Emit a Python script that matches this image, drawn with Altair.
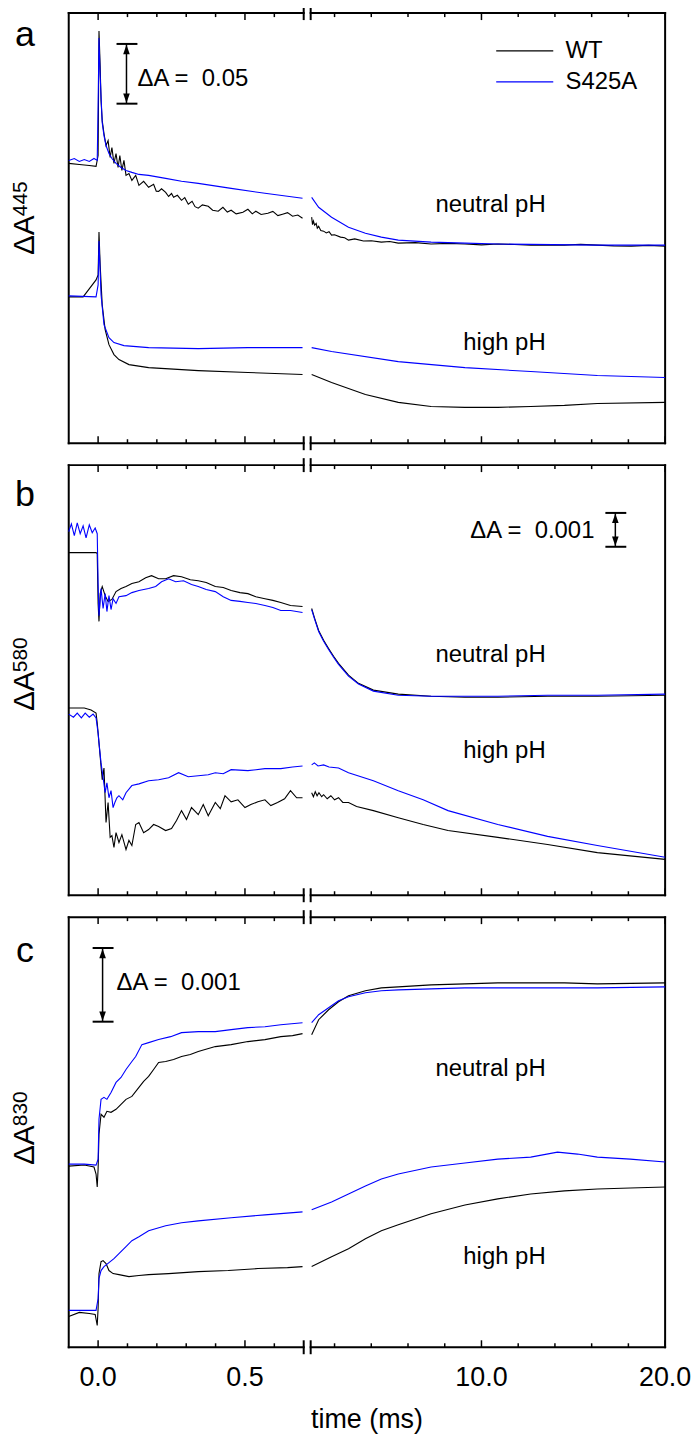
import altair as alt
import pandas as pd

FONT = "Liberation Sans"
W, H = 599, 432
BREAK_L, BREAK_R = 236, 243
X_DOMAIN = [-0.1, 0.7, 0.7, 20.0]
X_RANGE = [0, BREAK_L, BREAK_R, W]

TICK_MAJOR = [0.0, 0.5, 10.0, 20.0]
TICK_MINOR = [0.1, 0.2, 0.3, 0.4, 0.6, 2, 4, 6, 8, 12, 14, 16, 18]
TICK_LABELS = [0.0, 0.5, 10.0, 20.0]

SERIES = ["WT", "S425A"]
COLORS = ["#000000", "#0000ff"]

# ---------------- panel a (values in mΔA, time in ms) ----------------
a_neutral_wt = [(-0.100, 234.2), (-0.064, 233.3), (-0.030, 232.5), (-0.007, 231.7), (0.000, 240.8), (0.003, 345.0),
                (0.007, 315.8), (0.010, 286.7), (0.014, 270.0), (0.020, 259.2), (0.027, 249.2), (0.034, 253.3),
                (0.041, 239.2), (0.047, 247.5), (0.054, 234.2), (0.061, 242.5), (0.068, 230.8), (0.074, 240.8),
                (0.081, 228.3), (0.088, 236.7), (0.095, 224.2), (0.105, 225.8), (0.115, 220.0), (0.128, 224.2),
                (0.139, 215.8), (0.155, 219.2), (0.172, 214.2), (0.189, 216.7), (0.198, 211.0), (0.206, 210.8),
                (0.216, 213.0), (0.230, 210.0), (0.240, 206.5), (0.250, 209.0), (0.257, 205.8), (0.270, 207.5),
                (0.284, 203.3), (0.295, 205.5), (0.307, 200.0), (0.320, 202.5), (0.330, 198.0), (0.341, 196.7),
                (0.355, 199.5), (0.375, 198.3), (0.390, 195.0), (0.409, 194.2), (0.425, 197.5), (0.440, 193.5),
                (0.453, 195.0), (0.470, 192.0), (0.493, 193.3), (0.510, 195.8), (0.525, 192.0), (0.537, 194.2),
                (0.555, 191.5), (0.578, 192.5), (0.595, 194.0), (0.612, 190.5), (0.628, 191.7), (0.645, 193.0),
                (0.662, 190.0), (0.680, 191.0), (0.696, 188.3),
                (0.754, 189.2), (0.800, 183.0), (0.850, 186.0), (0.917, 182.5), (1.000, 184.0), (1.060, 180.0),
                (1.134, 181.5), (1.250, 178.0), (1.405, 177.5), (1.550, 176.0), (1.700, 177.0), (1.838, 174.2),
                (2.000, 174.5), (2.326, 172.5), (2.550, 172.0), (2.760, 170.0), (3.100, 171.0), (3.573, 169.2),
                (4.000, 169.5), (4.548, 168.3), (5.000, 168.8), (5.470, 167.5), (6.400, 167.9), (7.258, 166.7),
                (8.200, 167.3), (9.101, 166.7), (10.00, 166.0), (10.89, 166.7), (11.80, 166.3), (12.68, 165.8),
                (14.52, 165.8), (15.40, 166.4), (16.31, 165.8), (17.20, 165.2), (18.15, 165.0), (19.10, 165.6),
                (20.0, 165.0)]
a_neutral_mut = [(-0.100, 236.7), (-0.081, 238.3), (-0.064, 235.8), (-0.047, 237.5), (-0.030, 235.8), (-0.014, 238.3),
                 (-0.003, 236.7), (0.000, 282.5), (0.003, 339.2), (0.007, 307.5), (0.014, 268.3), (0.020, 257.5),
                 (0.027, 249.2), (0.037, 242.5), (0.047, 238.3), (0.061, 234.2), (0.078, 230.8), (0.095, 228.3),
                 (0.115, 226.7), (0.139, 225.0), (0.172, 224.2), (0.230, 221.7), (0.284, 219.2), (0.341, 217.5),
                 (0.453, 213.3), (0.568, 209.2), (0.696, 205.0),
                 (0.754, 205.8), (1.134, 197.5), (1.838, 189.2), (2.760, 180.8), (3.681, 175.8), (4.548, 172.5),
                 (5.470, 170.0), (7.258, 168.3), (9.101, 167.5), (10.89, 166.7), (16.31, 165.8), (20.0, 165.8)]
a_high_wt = [(-0.100, 122.5), (-0.051, 122.5), (-0.007, 136.7), (0.000, 140.8), (0.003, 176.7), (0.007, 149.2),
             (0.014, 115.8), (0.024, 95.0), (0.037, 82.5), (0.054, 74.2), (0.071, 70.0), (0.105, 65.8),
             (0.172, 63.3), (0.341, 60.8), (0.510, 59.2), (0.696, 57.5),
             (0.754, 57.5), (1.838, 50.8), (3.681, 40.8), (5.470, 34.2), (7.258, 30.8), (9.101, 30.0),
             (10.89, 30.0), (12.68, 30.8), (14.52, 31.7), (16.31, 33.3), (20.0, 34.2)]
a_high_mut = [(-0.100, 123.3), (-0.007, 122.5), (0.000, 132.5), (0.003, 169.2), (0.010, 124.2), (0.020, 99.2),
              (0.037, 88.3), (0.054, 84.2), (0.088, 81.7), (0.172, 80.0), (0.341, 79.2), (0.510, 80.0),
              (0.696, 80.0),
              (0.754, 80.0), (1.838, 76.7), (5.470, 68.3), (9.101, 63.3), (12.68, 60.0), (16.31, 56.7),
              (20.0, 55.0)]

# ---------------- panel b ----------------
b_neutral_wt = [(-0.100, 10.12), (-0.007, 10.12), (-0.003, 10.09), (0.000, 8.62), (0.003, 8.09), (0.007, 8.91),
                (0.014, 9.12), (0.024, 8.85), (0.034, 8.68), (0.047, 8.74), (0.061, 8.97), (0.078, 9.06),
                (0.095, 9.12), (0.115, 9.21), (0.139, 9.26), (0.162, 9.38), (0.182, 9.44), (0.206, 9.35),
                (0.230, 9.35), (0.257, 9.44), (0.284, 9.41), (0.314, 9.32), (0.341, 9.29), (0.368, 9.24),
                (0.399, 9.12), (0.426, 9.09), (0.453, 9.00), (0.483, 8.94), (0.510, 8.91), (0.537, 8.82),
                (0.568, 8.76), (0.595, 8.71), (0.622, 8.65), (0.655, 8.56), (0.696, 8.53),
                (0.754, 8.47), (0.917, 8.18), (1.134, 7.82), (1.405, 7.53), (1.676, 7.29), (1.947, 7.06),
                (2.218, 6.85), (2.760, 6.50), (3.302, 6.26), (4.115, 6.06), (5.470, 5.94), (7.258, 5.88),
                (9.101, 5.85), (10.89, 5.85), (13.60, 5.88), (16.31, 5.88), (20.0, 5.91)]
b_neutral_mut = [(-0.100, 10.74), (-0.091, 10.97), (-0.081, 10.62), (-0.071, 11.00), (-0.061, 10.68), (-0.051, 10.91),
                 (-0.041, 10.56), (-0.030, 10.94), (-0.020, 10.71), (-0.010, 10.85), (-0.003, 10.68), (0.000, 9.21),
                 (0.003, 8.26), (0.010, 9.06), (0.017, 8.47), (0.024, 8.91), (0.030, 8.38), (0.037, 8.85),
                 (0.044, 8.44), (0.051, 8.76), (0.061, 8.62), (0.071, 8.82), (0.095, 8.85), (0.115, 8.94),
                 (0.139, 9.00), (0.172, 9.06), (0.196, 9.12), (0.216, 9.26), (0.240, 9.35), (0.264, 9.26),
                 (0.291, 9.29), (0.318, 9.18), (0.341, 9.12), (0.368, 9.03), (0.399, 8.97), (0.426, 8.82),
                 (0.453, 8.71), (0.483, 8.68), (0.510, 8.65), (0.537, 8.62), (0.568, 8.56), (0.595, 8.50),
                 (0.622, 8.41), (0.655, 8.41), (0.696, 8.35),
                 (0.754, 8.44), (0.917, 8.15), (1.134, 7.79), (1.405, 7.50), (1.676, 7.26), (1.947, 7.03),
                 (2.218, 6.82), (2.760, 6.47), (3.302, 6.24), (4.115, 6.03), (5.470, 5.91), (7.258, 5.88),
                 (9.101, 5.88), (10.89, 5.88), (13.60, 5.91), (16.31, 5.91), (20.0, 5.94)]
b_high_wt = [(-0.100, 5.53), (-0.047, 5.53), (-0.024, 5.47), (-0.007, 5.38), (-0.003, 5.09), (0.003, 4.50),
             (0.014, 3.41), (0.020, 3.76), (0.027, 2.15), (0.034, 2.74), (0.041, 1.71), (0.047, 1.76),
             (0.054, 1.41), (0.061, 1.85), (0.071, 1.56), (0.081, 1.79), (0.095, 1.35), (0.105, 1.62),
             (0.115, 1.47), (0.128, 2.09), (0.139, 2.15), (0.155, 1.85), (0.172, 1.94), (0.189, 2.09),
             (0.206, 2.03), (0.230, 1.91), (0.250, 1.97), (0.267, 2.21), (0.284, 2.50), (0.301, 2.24),
             (0.318, 2.59), (0.341, 2.38), (0.358, 2.68), (0.375, 2.35), (0.399, 2.74), (0.416, 2.56),
             (0.432, 2.94), (0.453, 2.76), (0.476, 2.82), (0.500, 2.59), (0.520, 2.68), (0.544, 2.76),
             (0.568, 2.82), (0.588, 2.65), (0.611, 2.74), (0.635, 2.85), (0.655, 3.09), (0.676, 2.88),
             (0.696, 2.88),
             (0.754, 3.03), (0.850, 2.91), (0.950, 3.06), (1.050, 2.94), (1.150, 3.03), (1.300, 2.91),
             (1.405, 2.97), (1.600, 2.85), (1.800, 2.94), (2.000, 2.82), (2.218, 2.88), (2.450, 2.74),
             (2.760, 2.74), (3.200, 2.62), (4.115, 2.50), (5.470, 2.29),
             (6.825, 2.09), (8.180, 1.91), (10.89, 1.71), (13.60, 1.50), (16.31, 1.26), (20.0, 1.06)]
b_high_mut = [(-0.100, 5.35), (-0.084, 5.26), (-0.071, 5.38), (-0.057, 5.24), (-0.044, 5.38), (-0.030, 5.26),
              (-0.017, 5.35), (-0.007, 5.24), (0.000, 4.79), (0.003, 4.50), (0.010, 3.91), (0.017, 3.47),
              (0.024, 3.03), (0.030, 3.32), (0.037, 2.88), (0.044, 3.09), (0.051, 2.59), (0.057, 2.74),
              (0.064, 2.88), (0.071, 2.94), (0.084, 2.82), (0.095, 3.03), (0.115, 3.24), (0.139, 3.29),
              (0.172, 3.38), (0.206, 3.41), (0.240, 3.47), (0.274, 3.62), (0.307, 3.50), (0.341, 3.53),
              (0.375, 3.56), (0.399, 3.62), (0.426, 3.59), (0.453, 3.71), (0.510, 3.68), (0.568, 3.74),
              (0.622, 3.74), (0.662, 3.79), (0.696, 3.82),
              (0.754, 3.85), (0.900, 3.91), (1.100, 3.82), (1.405, 3.85), (1.700, 3.79), (2.218, 3.76),
              (2.760, 3.62), (4.115, 3.38), (5.470, 3.09),
              (6.825, 2.82), (8.180, 2.50), (10.89, 2.09), (13.60, 1.74), (16.31, 1.47), (20.0, 1.12)]

# ---------------- panel c ----------------
c_neutral_wt = [(-0.100, 2.459), (-0.047, 2.473), (-0.014, 2.446), (-0.007, 2.351), (-0.003, 2.176), (0.000, 2.419),
                (0.003, 2.892), (0.010, 3.162), (0.020, 3.122), (0.030, 3.203), (0.044, 3.189), (0.061, 3.230),
                (0.078, 3.297), (0.095, 3.365), (0.115, 3.405), (0.139, 3.527), (0.155, 3.608), (0.172, 3.676),
                (0.189, 3.770), (0.206, 3.865), (0.230, 3.878), (0.257, 3.905), (0.284, 3.946), (0.314, 3.973),
                (0.341, 4.014), (0.399, 4.081), (0.453, 4.108), (0.510, 4.149), (0.568, 4.176), (0.622, 4.216),
                (0.662, 4.230), (0.696, 4.257),
                (0.754, 4.243), (1.134, 4.446), (1.676, 4.581), (2.218, 4.689), (2.760, 4.770), (3.681, 4.838),
                (4.548, 4.878), (5.470, 4.892), (7.258, 4.919), (9.101, 4.932), (10.89, 4.946), (12.68, 4.946),
                (14.52, 4.946), (16.31, 4.932), (20.0, 4.946)]
c_neutral_mut = [(-0.100, 2.486), (-0.047, 2.486), (-0.007, 2.473), (0.000, 2.554), (0.003, 3.095), (0.010, 3.365),
                 (0.020, 3.392), (0.030, 3.365), (0.044, 3.459), (0.061, 3.595), (0.078, 3.662), (0.095, 3.770),
                 (0.115, 3.878), (0.128, 3.946), (0.149, 4.108), (0.172, 4.135), (0.206, 4.176), (0.247, 4.216),
                 (0.284, 4.270), (0.341, 4.284), (0.399, 4.284), (0.453, 4.311), (0.510, 4.338), (0.568, 4.351),
                 (0.622, 4.378), (0.696, 4.405),
                 (0.754, 4.405), (1.134, 4.514), (1.676, 4.608), (2.218, 4.703), (2.760, 4.757), (3.681, 4.811),
                 (4.548, 4.838), (5.470, 4.851), (7.258, 4.865), (9.101, 4.878), (10.89, 4.878), (14.52, 4.878),
                 (16.31, 4.878), (20.0, 4.892)]
c_high_wt = [(-0.100, 0.419), (-0.064, 0.473), (-0.030, 0.459), (-0.010, 0.446), (-0.003, 0.297), (0.000, 0.527),
             (0.003, 1.000), (0.010, 1.162), (0.017, 1.176), (0.027, 1.135), (0.037, 1.041), (0.051, 1.000),
             (0.071, 0.986), (0.105, 0.959), (0.139, 0.973), (0.172, 0.986), (0.240, 1.000), (0.341, 1.027),
             (0.443, 1.041), (0.544, 1.068), (0.645, 1.081), (0.696, 1.095),
             (0.754, 1.095), (1.838, 1.230), (2.760, 1.338), (3.681, 1.473), (4.548, 1.581), (5.470, 1.662),
             (7.258, 1.811), (9.101, 1.932), (10.89, 2.014), (12.68, 2.081), (14.52, 2.122), (16.31, 2.149),
             (18.10, 2.162), (20.0, 2.176)]
c_high_mut = [(-0.100, 0.500), (-0.030, 0.500), (-0.007, 0.500), (0.000, 0.662), (0.003, 0.932), (0.010, 1.041),
              (0.020, 1.095), (0.037, 1.149), (0.054, 1.203), (0.071, 1.270), (0.095, 1.365), (0.115, 1.446),
              (0.139, 1.500), (0.172, 1.581), (0.230, 1.649), (0.284, 1.689), (0.341, 1.716), (0.453, 1.757),
              (0.568, 1.797), (0.696, 1.838),
              (0.754, 1.865), (1.838, 1.973), (2.760, 2.081), (3.681, 2.189), (4.548, 2.284), (5.470, 2.351),
              (7.258, 2.446), (9.101, 2.500), (10.89, 2.554), (12.68, 2.581), (14.14, 2.649), (15.23, 2.622),
              (16.31, 2.581), (18.10, 2.554), (20.0, 2.514)]

ONE = pd.DataFrame({"k": [0]})
XS = alt.Scale(domain=X_DOMAIN, range=X_RANGE, nice=False, zero=False)
NB = "\u00a0"


def trace_df(pairs, series, cond):
    df = pd.DataFrame(pairs, columns=["t", "v"])
    df["series"] = series
    df["key"] = [cond + ("-L" if t < 0.7 else "-R") for t in df["t"]]
    return df


def hrule(x1, x2, y, w=2.0, color="black", opacity=1.0):
    return alt.Chart(ONE).mark_rule(color=color, strokeWidth=w, strokeCap="square", strokeOpacity=opacity).encode(
        x=alt.value(x1), x2=alt.value(x2), y=alt.value(y))


def vrule(x, y1, y2, w=2.0, color="black", opacity=1.0):
    return alt.Chart(ONE).mark_rule(color=color, strokeWidth=w, strokeCap="square", strokeOpacity=opacity).encode(
        x=alt.value(x), y=alt.value(y1), y2=alt.value(y2))


def txt(s, x, y, size=24, align="left", baseline="middle", angle=0):
    return alt.Chart(ONE).mark_text(font=FONT, fontSize=size, align=align, baseline=baseline, angle=angle,
                                    color="black").encode(x=alt.value(x), y=alt.value(y), text=alt.value(s))


ARROW_UP = "M0,-1L0.7,1L-0.7,1Z"
ARROW_DOWN = "M0,1L0.7,-1L-0.7,-1Z"


def scale_bar(px, v_top, v_bot, ys):
    ly = []
    ly.append(alt.Chart(ONE).mark_rule(color="black", strokeWidth=1.5).encode(
        x=alt.value(px), y=alt.YDatum(v_top, scale=ys, axis=None), y2=alt.Y2Datum(v_bot)))
    for v in (v_top, v_bot):
        ly.append(alt.Chart(ONE).mark_rule(color="black", strokeWidth=2).encode(
            x=alt.value(px - 10), x2=alt.value(px + 11), y=alt.YDatum(v, scale=ys, axis=None)))
    ly.append(alt.Chart(ONE).mark_point(shape=ARROW_UP, filled=True, size=90, color="black", opacity=1,
                                        yOffset=5.5).encode(
        x=alt.value(px), y=alt.YDatum(v_top, scale=ys, axis=None)))
    ly.append(alt.Chart(ONE).mark_point(shape=ARROW_DOWN, filled=True, size=90, color="black", opacity=1,
                                        yOffset=-5.5).encode(
        x=alt.value(px), y=alt.YDatum(v_bot, scale=ys, axis=None)))
    return ly


def panel(traces, ymax, letter, letter_base, sup, ylab_y, labels, bar, bar_text, legend=False, bottom=False,
          anchor=False):
    ys = alt.Scale(domain=[0, ymax], nice=False, zero=False)
    layers = []
    # frame
    layers += [hrule(0, BREAK_L, 0), hrule(BREAK_R, W, 0), hrule(0, BREAK_L, H), hrule(BREAK_R, W, H),
               vrule(0, 0, H), vrule(W, 0, H)]
    for bx in (BREAK_L, BREAK_R):
        layers += [vrule(bx, -6, 6), vrule(bx, H - 6, H + 6)]
    # ticks (inward)
    for vals, ln in ((TICK_MAJOR, 7), (TICK_MINOR, 4)):
        tdf = pd.DataFrame({"t": vals})
        for y1, y2 in ((0, ln), (H - ln, H)):
            layers.append(alt.Chart(tdf).mark_rule(color="black", strokeWidth=1.5).encode(
                x=alt.X("t:Q", scale=XS, axis=None), y=alt.value(y1), y2=alt.value(y2)))
    # traces: WT below, S425A on top
    for series, color in zip(SERIES, COLORS):
        df = pd.concat([trace_df(p, s, c) for (p, s, c) in traces if s == series], ignore_index=True)
        layers.append(alt.Chart(df).mark_line(color=color, strokeWidth=1.1).encode(
            x=alt.X("t:Q", scale=XS, axis=None),
            y=alt.Y("v:Q", scale=ys, axis=None),
            detail="key:N"))
    # labels
    for s, x, y in labels:
        layers.append(txt(s, x, y, size=24, align="right"))
    # scale bar
    px, v_top, v_bot = bar
    layers += scale_bar(px, v_top, v_bot, ys)
    s, x, y, al = bar_text
    layers.append(txt(s, x, y, size=24, align=al))
    # panel letter
    layers.append(txt(letter, -44, letter_base, size=36, align="center", baseline="alphabetic"))
    # y label ΔA with superscript (rotated)
    layers.append(txt("ΔA", -35, ylab_y, size=30, align="right", baseline="alphabetic", angle=270))
    layers.append(txt(sup, -42, ylab_y + 1, size=21, align="left", baseline="alphabetic", angle=270))
    if legend:
        layers += [hrule(430, 486, 38, w=1.3), hrule(430, 486, 69, w=1.3, color="#0000ff"),
                   txt("WT", 499, 38), txt("S425A", 499, 69)]
    if anchor:
        layers.append(vrule(-61, 0, 1, w=1, opacity=0))
    if bottom:
        ldf = pd.DataFrame({"t": TICK_LABELS})
        layers.append(alt.Chart(ldf).mark_text(font=FONT, fontSize=27, baseline="middle", align="center",
                                               color="black").encode(
            x=alt.X("t:Q", scale=XS, axis=None), y=alt.value(H + 31), text=alt.Text("t:Q", format=".1f")))
        layers.append(txt("time (ms)", W / 2, H + 73, size=27, align="center"))
    return alt.layer(*layers).properties(width=W, height=H)


pa = panel([(a_neutral_wt, "WT", "n"), (a_high_wt, "WT", "h"), (a_neutral_mut, "S425A", "n"),
            (a_high_mut, "S425A", "h")],
           360, "a", 33, "445", 203,
           [("neutral pH", 479, 193), ("high pH", 479, 331)],
           (58, 334.2, 284.2), ("ΔA =" + NB + NB + "0.05", 69, 66, "left"), legend=True, anchor=True)
pb = panel([(b_neutral_wt, "WT", "n"), (b_high_wt, "WT", "h"), (b_neutral_mut, "S425A", "n"),
            (b_high_mut, "S425A", "h")],
           12.706, "b", 41, "580", 207,
           [("neutral pH", 479, 191), ("high pH", 479, 287)],
           (549, 11.294, 10.294), ("ΔA =" + NB + NB + "0.001", 528, 66, "right"))
pc = panel([(c_neutral_wt, "WT", "n"), (c_high_wt, "WT", "h"), (c_neutral_mut, "S425A", "n"),
            (c_high_mut, "S425A", "h")],
           5.838, "c", 45, "830", 209,
           [("neutral pH", 479, 153), ("high pH", 479, 341)],
           (34, 5.419, 4.419), ("ΔA =" + NB + NB + "0.001", 48, 66, "left"), bottom=True)

chart = alt.vconcat(pa, pb, pc, spacing=22, bounds="flush").properties(
    padding={"top": -6, "left": 0, "right": 0, "bottom": 0}
).configure_view(stroke=None)

chart.save("out.html", embed_options={"renderer": "svg", "actions": False})
